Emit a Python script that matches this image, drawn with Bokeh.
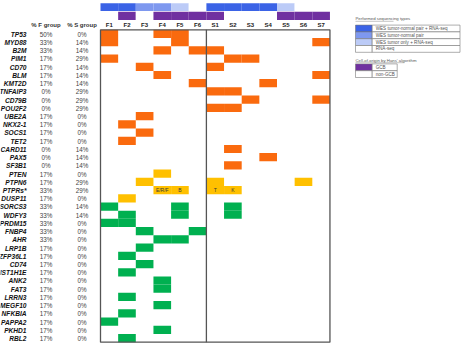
from bokeh.plotting import figure
from bokeh.models import Range1d, ColumnDataSource
from bokeh.core.properties import value
from bokeh.embed import file_html
from bokeh.resources import INLINE

# ---- data ---------------------------------------------------------------
samples = ["F1", "F2", "F3", "F4", "F5", "F6", "S1", "S2", "S3", "S4", "S5", "S6", "S7"]

# sequencing performed per sample: pr = WES pair + RNA, p = WES pair,
# tr = WES tumor only + RNA, r = RNA-seq only
seq_type = ["pr", "pr", "p", "p", "tr", "r", "pr", "pr", "pr", "pr", "tr", "r", "r"]
cell_origin = ["non", "GCB", "non", "GCB", "GCB", "GCB", "GCB", "non", "non", "non", "GCB", "GCB", "GCB"]

genes = ["TP53", "MYD88", "B2M", "PIM1", "CD70", "BLM", "KMT2D", "TNFAIP3", "CD79B",
         "POU2F2", "UBE2A", "NKX2-1", "SOCS1", "TET2", "CARD11", "PAX5", "SF3B1",
         "PTEN", "PTPN6", "PTPRs*", "DUSP11",
         "SORCS3", "WDFY3", "PRDM15", "FNBP4", "AHR", "LRP1B", "ZFP36L1", "CD74",
         "HIST1H1E", "ANK2", "FAT3", "LRRN3", "MEGF10", "NFKBIA", "PAPPA2", "PKHD1", "RBL2"]

pct_f = ["50%", "33%", "33%", "17%", "17%", "17%", "17%", "0%", "0%", "0%", "17%", "17%",
         "17%", "17%", "0%", "0%", "0%", "17%", "17%", "33%", "17%", "33%", "33%", "33%",
         "33%", "33%", "17%", "17%", "17%", "17%", "17%", "17%", "17%", "17%", "17%",
         "17%", "17%", "17%"]
pct_s = ["0%", "14%", "14%", "29%", "14%", "14%", "14%", "29%", "29%", "29%", "0%", "0%",
         "0%", "0%", "14%", "14%", "14%", "0%", "29%", "29%", "0%", "14%", "14%", "0%",
         "0%", "0%", "0%", "0%", "0%", "0%", "0%", "0%", "0%", "0%", "0%", "0%", "0%", "0%"]

# gene group: a = orange, b = yellow, c = green
gene_group = ["a"] * 17 + ["b"] * 4 + ["c"] * 17

mutated = [
    ["F1", "F4", "F5"], ["F1", "F5", "S7"], ["F4", "F6", "S1"], ["F1", "S2", "S3"],
    ["F3", "S1"], ["F4", "S7"], ["F6", "S4"], ["S1", "S2"], ["S3", "S7"], ["S1", "S2"],
    ["F3"], ["F2"], ["F3"], ["F2"], ["S2"], ["S4"], ["S2"],
    ["F4"], ["F3", "S1", "S6"], ["F4", "F5", "S1", "S2"], ["F2"],
    ["F1", "F5", "S2"], ["F2", "F5", "S2"], ["F1", "F2"], ["F3", "F6"], ["F4", "F5"],
    ["F3"], ["F2"], ["F3"], ["F2"], ["F4"], ["F4"], ["F2"], ["F4"], ["F2"], ["F1"],
    ["F4"], ["F2"],
]

# PTPR family members annotated inside the PTPRs* cells
ptpr_samples = ["F4", "F5", "S1", "S2"]
ptpr_labels = ["E/R/F", "B", "T", "K"]

seq_legend = ["WES tumor-normal pair + RNA-seq", "WES tumor-normal pair",
              "WES tumor only + RNA-seq", "RNA-seq"]
seq_keys = ["pr", "p", "tr", "r"]
coo_legend = ["GCB", "non-GCB"]
coo_keys = ["GCB", "non"]

# ---- styling ------------------------------------------------------------
W, H = 463, 352
GRID_LEFT, GRID_TOP = 100.0, 29.3
CELL_W, CELL_H = 17.65, 8.22

group_color = {"a": "#FA6A0E", "b": "#FFC000", "c": "#00B050"}
seq_color = {"pr": "#3B63E6", "p": "#7E98EF", "tr": "#BCCBF7", "r": "#FFFFFF"}
coo_color = {"GCB": "#7030A0", "non": "#FFFFFF"}
FONT = value("Liberation Sans")


def xu(px):
    return (px - GRID_LEFT) / CELL_W


def yu(px):
    return (px - GRID_TOP) / CELL_H


p = figure(width=W, height=H, output_backend="svg", toolbar_location=None,
           x_range=Range1d(xu(0), xu(W)), y_range=Range1d(yu(H), yu(0)),
           x_axis_location=None, y_axis_location=None, min_border=0)
p.grid.visible = False
p.outline_line_color = None
p.background_fill_color = "white"
p.border_fill_color = "white"

# ---- mutation cells ------------------------------------------------------
cx, cy, cc = [], [], []
for gi, hits in enumerate(mutated):
    for s in hits:
        cx.append(samples.index(s) + 0.5)
        cy.append(gi + 0.5)
        cc.append(group_color[gene_group[gi]])
p.rect(x="x", y="y", width=1, height=1, fill_color="c", line_color=None,
       source=ColumnDataSource(dict(x=cx, y=cy, c=cc)))

pi = genes.index("PTPRs*")
p.text(x=[samples.index(s) + 0.5 for s in ptpr_samples], y=[pi + 0.5] * len(ptpr_samples),
       text=ptpr_labels, text_font=FONT, text_font_size="5px", text_color="#3a3a3a",
       text_align="center", text_baseline="middle")

# grid frame and F / S divider
n_s, n_g = len(samples), len(genes)
n_f = sum(1 for s in samples if s.startswith("F"))
p.rect(x=n_s / 2, y=n_g / 2, width=n_s, height=n_g, fill_color=None,
       line_color="#555555", line_width=1.3)
p.segment(x0=[n_f], y0=[0], x1=[n_f], y1=[n_g], line_color="#555555", line_width=1.3)

# ---- annotation bars on top ---------------------------------------------
sx = [i + 0.5 for i in range(n_s)]
seq_top, seq_bot = yu(2.7), yu(10.6)
coo_top, coo_bot = yu(11.2), yu(19.6)
p.rect(x=sx, y=[(seq_top + seq_bot) / 2] * n_s, width=1, height=seq_bot - seq_top,
       fill_color=[seq_color[t] for t in seq_type], line_color=None)
p.rect(x=sx, y=[(coo_top + coo_bot) / 2] * n_s, width=1, height=coo_bot - coo_top,
       fill_color=[coo_color[t] for t in cell_origin], line_color=None)

p.text(x=sx, y=[yu(24.6)] * n_s, text=samples, text_font=FONT, text_font_size="6px",
       text_font_style="bold", text_color="#222222", text_align="center",
       text_baseline="middle")

# ---- gene labels and percentages ---------------------------------------
gy = [i + 0.55 for i in range(n_g)]
p.text(x=[xu(26)] * n_g, y=gy, text=genes, text_font=FONT, text_font_size="6.6px",
       text_font_style="bold italic", text_color="#111111", text_align="right",
       text_baseline="middle")
p.text(x=[xu(45.5)] * n_g, y=gy, text=pct_f, text_font=FONT, text_font_size="6.3px",
       text_color="#444444", text_align="center", text_baseline="middle")
p.text(x=[xu(81.5)] * n_g, y=gy, text=pct_s, text_font=FONT, text_font_size="6.3px",
       text_color="#444444", text_align="center", text_baseline="middle")
p.text(x=[xu(45.5), xu(81.5)], y=[yu(24.6)] * 2, text=["% F group", "% S group"],
       text_font=FONT, text_font_size="6px", text_font_style="bold", text_color="#333333",
       text_align="center", text_baseline="middle")

# ---- legends --------------------------------------------------------------
def draw_legend(title, title_y, top, labels, keys, colors, box_right, title_w):
    row_h = 6.8
    sw_l, sw_r = 355.0, 371.7
    p.text(x=[xu(sw_l)], y=[yu(title_y)], text=[title], text_font=FONT,
           text_font_size="4.3px", text_color="#555555", text_baseline="middle")
    p.segment(x0=[xu(sw_l)], y0=[yu(title_y + 2.6)], x1=[xu(sw_l + title_w)],
              y1=[yu(title_y + 2.6)], line_color="#888888", line_width=0.5)
    n = len(labels)
    ys = [yu(top + row_h * (k + 0.5)) for k in range(n)]
    hh = row_h / CELL_H
    p.rect(x=[xu((sw_l + sw_r) / 2)] * n, y=ys, width=(sw_r - sw_l) / CELL_W, height=hh,
           fill_color=[colors[k] for k in keys], line_color="#777777", line_width=0.6)
    p.rect(x=[xu((sw_r + box_right) / 2)] * n, y=ys, width=(box_right - sw_r) / CELL_W,
           height=hh, fill_color="white", line_color="#777777", line_width=0.6)
    p.text(x=[xu(sw_r + 3.5)] * n, y=ys, text=labels, text_font=FONT,
           text_font_size="4.6px", text_color="#555555", text_baseline="middle")


draw_legend("Performed sequencing types", 18.2, 24.6, seq_legend, seq_keys, seq_color,
            459.5, 38)
draw_legend("Cell-of-origin by Hans' algorithm", 59.6, 63.4, coo_legend, coo_keys,
            coo_color, 396.7, 49)

open("out.html", "w").write(file_html(p, INLINE))
